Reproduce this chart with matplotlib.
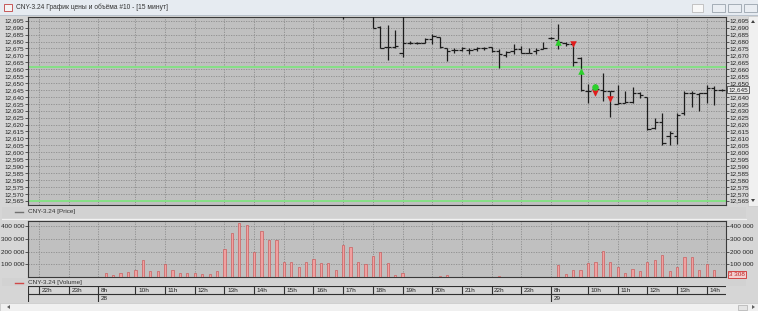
import matplotlib
matplotlib.use('Agg')
import matplotlib.pyplot as plt
import numpy as np
from matplotlib.patches import Rectangle, Polygon
from matplotlib.ticker import FuncFormatter, FixedLocator

plt.rcParams['font.family'] = ['Liberation Sans', 'DejaVu Sans']

W, H = 758, 311

# ---------------- data ----------------
title = "CNY-3.24 График цены и объёма #10 - [15 минут]"
price_legend = "CNY-3.24 [Price]"
volume_legend = "CNY-3.24 [Volume]"

hour_labels = ['22h', '23h', '8h', '10h', '11h', '12h', '13h', '14h', '15h', '16h', '17h',
               '18h', '19h', '20h', '21h', '22h', '23h', '8h', '10h', '11h', '12h', '13h', '14h']
hour_start = [0, 4, 8, 13, 17, 21, 25, 29, 33, 37, 41, 45, 49, 53, 57, 61, 65, 69, 74, 78, 82, 86, 90]
date_labels = ['28', '29']
date_start = [8, 69]

price_start = 41
opens = [12.700, np.nan, np.nan, np.nan, 12.699, 12.6905, 12.676, 12.676, 12.6715, 12.679,
         12.679, 12.679, 12.6815, 12.683, 12.675, 12.674, 12.674, 12.674, 12.6745, 12.675,
         12.676, 12.673, 12.670, 12.6735, 12.6745, 12.672, 12.673, 12.6745, 12.6825, 12.681,
         12.679, 12.678, 12.668, 12.6445, 12.6455, 12.645, 12.644, 12.635, 12.6355, 12.6365,
         12.6425, 12.640, 12.6175, 12.622, 12.612, 12.612, 12.628, 12.643, 12.642, 12.6425,
         12.6465, 12.645]
highs = [12.704, np.nan, np.nan, np.nan, 12.700, 12.6915, 12.692, 12.688, 12.705, 12.6805,
         12.680, 12.6825, 12.6855, 12.6835, 12.6755, 12.6755, 12.676, 12.6755, 12.676, 12.676,
         12.676, 12.6745, 12.673, 12.678, 12.6765, 12.675, 12.6755, 12.680, 12.683, 12.6925,
         12.680, 12.6785, 12.669, 12.6493, 12.649, 12.657, 12.6445, 12.6485, 12.644, 12.647,
         12.6435, 12.640, 12.625, 12.628, 12.615, 12.628, 12.6445, 12.6445, 12.6425, 12.6485,
         12.6475, 12.646]
lows = [12.6965, np.nan, np.nan, np.nan, 12.6895, 12.675, 12.667, 12.675, 12.669, 12.6785,
        12.6785, 12.679, 12.678, 12.6755, 12.666, 12.672, 12.673, 12.671, 12.6735, 12.674,
        12.6725, 12.661, 12.669, 12.671, 12.6715, 12.6715, 12.671, 12.6745, 12.682, 12.6745,
        12.677, 12.662, 12.6445, 12.6354, 12.641, 12.637, 12.6255, 12.635, 12.6355, 12.6355,
        12.6395, 12.616, 12.6165, 12.605, 12.605, 12.606, 12.627, 12.633, 12.6295, 12.6355,
        12.634, 12.644]
closes = [12.699, np.nan, np.nan, np.nan, 12.690, 12.675, 12.676, 12.6765, 12.679, 12.679,
          12.679, 12.6815, 12.684, 12.676, 12.6735, 12.674, 12.675, 12.674, 12.675, 12.675,
          12.673, 12.671, 12.6725, 12.6745, 12.672, 12.672, 12.674, 12.675, 12.6825, 12.6795,
          12.678, 12.6655, 12.645, 12.6445, 12.6455, 12.6445, 12.644, 12.6355, 12.6365, 12.6425,
          12.641, 12.617, 12.6215, 12.607, 12.614, 12.627, 12.6425, 12.643, 12.6425, 12.6465,
          12.645, 12.645]

vol_start = 8
volumes = [3000, 28000, 15000, 34000, 42000, 58000, 132000, 47000, 47000, 100000,
           52000, 31000, 31000, 31000, 26000, 26000, 47000, 220000, 348000, 425000,
           409000, 199000, 358000, 292000, 292000, 119000, 116000, 79000, 119000, 142000,
           111000, 111000, 55000, 252000, 233000, 119000, 106000, 164000, 197000, 108000,
           15000, 31000, 3000, 2000, 2000, 2000, 4000, 15000, 3000, 2000,
           2000, 2000, 2000, 2000, 7000, 2000, 2000, 2000, 2000, 2000,
           3000, 2000, 92000, 20000, 52000, 52000, 111000, 119000, 207000, 119000,
           79000, 34000, 66000, 47000, 114000, 135000, 175000, 44000, 79000, 158000,
           158000, 55000, 100000, 55000, 3308]

buy_idx = [70, 73]
buy_price = [12.680, 12.659]
sell_idx = [72, 75, 77]
sell_price = [12.678, 12.643, 12.6383]
circle_idx = [75]
circle_price = [12.6474]
level_lines = [12.6618, 12.565]
last_price = 12.645
last_volume = 3308

price_ticks = [12.565 + 0.005 * k for k in range(27)]
volume_ticks = [100000, 200000, 300000, 400000]

# ---------------- layout helpers ----------------
def px_rect(x0, y0, x1, y1):
    return [x0 / W, 1 - y1 / H, (x1 - x0) / W, (y1 - y0) / H]

XL = (-1.48, 92.6)
grid_kw = dict(color='#8c8c8c', lw=0.6, ls=(0, (1.5, 1.5)), zorder=1)
tick_font = 4.6

fig = plt.figure(figsize=(W / 100, H / 100), dpi=100)
fig.patch.set_facecolor('#d6d6d6')

# chrome (window frame)
bg = fig.add_axes([0, 0, 1, 1], zorder=0)
bg.set_xlim(0, W)
bg.set_ylim(H, 0)
bg.axis('off')
bg.add_patch(Rectangle((0, 0), W, 15, fc='#e6ebf1', ec='none'))
bg.add_patch(Rectangle((0, 15), W, 1, fc='#b9c2cc', ec='none'))
bg.add_patch(Rectangle((4, 4), 8, 7, fc='#f4f4f4', ec='#c04040', lw=0.6))
bg.text(16, 7.5, title, fontsize=4.8, color='#333333', va='center', ha='left')
for bx in (712, 728, 744):
    bg.add_patch(Rectangle((bx, 4), 13, 8, fc='#e9edf2', ec='#9aa4ae', lw=0.6))
bg.add_patch(Rectangle((692, 4), 11, 8, fc='#f8f8f8', ec='#b0b0b0', lw=0.5))
# right scrollbar
bg.add_patch(Rectangle((748, 16), 10, 190, fc='#f0f0f0', ec='#c8c8c8', lw=0.5))
bg.add_patch(Polygon([[751, 23], [755, 23], [753, 20]], fc='#404040', ec='none'))
bg.add_patch(Polygon([[751, 199], [755, 199], [753, 202]], fc='#404040', ec='none'))
# bottom scrollbar
bg.add_patch(Rectangle((0, 303), W, 8, fc='#f0f0f0', ec='#c8c8c8', lw=0.5))
bg.add_patch(Polygon([[10, 305], [10, 309], [7, 307]], fc='#606060', ec='none'))
bg.add_patch(Polygon([[752, 305], [752, 309], [755, 307]], fc='#606060', ec='none'))
bg.add_patch(Rectangle((738, 304.5), 9, 5, fc='#e4e4e4', ec='#a0a0a0', lw=0.4))
# legend strips
bg.add_patch(Rectangle((2, 207), 744, 11, fc='#d2d2d2', ec='none'))
bg.plot([15, 23], [212, 212], color='#707070', lw=1)
bg.text(28, 212, price_legend, fontsize=4.6, color='#333333', va='center')
bg.add_patch(Rectangle((2, 278), 744, 8, fc='#d2d2d2', ec='none'))
bg.plot([15, 23], [282.5, 282.5], color='#d04848', lw=1)
bg.text(28, 282.5, volume_legend, fontsize=4.6, color='#333333', va='center')
bg.plot([2, 746], [218.5, 218.5], color='#f2f2f2', lw=0.8)

# ---------------- price panel ----------------
ax_p = fig.add_axes(px_rect(28, 17, 726, 205), zorder=2)
ax_p.set_facecolor('#c0c0c0')
ax_p.set_xlim(*XL)
ax_p.set_ylim(12.5619, 12.6977)
for y in price_ticks:
    ax_p.axhline(y, **grid_kw)
for i in hour_start:
    ax_p.axvline(i, **grid_kw)
for y in level_lines:
    ax_p.axhline(y, color='#86e086', lw=1.4, zorder=2)

bar_col = '#1c1c1c'
for k in range(len(opens)):
    o, h, l, c = opens[k], highs[k], lows[k], closes[k]
    if np.isnan(o):
        continue
    i = price_start + k
    ax_p.vlines(i, l, h, color=bar_col, lw=0.9, zorder=3)
    ax_p.hlines(o, i - 0.45, i, color=bar_col, lw=0.9, zorder=3)
    ax_p.hlines(c, i, i + 0.45, color=bar_col, lw=0.9, zorder=3)

ax_p.scatter(buy_idx, buy_price, marker='^', s=22, color='#2bd02b', zorder=4, linewidths=0)
ax_p.scatter(sell_idx, sell_price, marker='v', s=22, color='#e01c1c', zorder=4, linewidths=0)
ax_p.scatter(circle_idx, circle_price, marker='o', s=22, color='#2bd02b', zorder=5, linewidths=0)

ax_p.yaxis.set_major_locator(FixedLocator(price_ticks))
ax_p.yaxis.set_major_formatter(FuncFormatter(lambda v, p: f"{v:.3f}".replace('.', ',')))
ax_p.tick_params(axis='y', left=True, right=True, labelleft=True, labelright=True,
                 labelsize=tick_font, length=2, width=0.5, pad=0.8, colors='#222222')
ax_p.set_xticks([])
for s in ax_p.spines.values():
    s.set_color('#3a3a3a')
    s.set_linewidth(0.8)
# the current-price box replaces the right-hand tick label at the same level
for t, v in zip(ax_p.yaxis.get_major_ticks(), price_ticks):
    if abs(v - last_price) < 1e-9:
        t.label2.set_visible(False)
ax_p.text(1.003, last_price, f"{last_price:.3f}".replace('.', ','), transform=ax_p.get_yaxis_transform(),
          fontsize=tick_font, va='center', ha='left', color='#222222', zorder=6,
          bbox=dict(boxstyle='square,pad=0.15', fc='#e8e8e8', ec='#303030', lw=0.5), clip_on=False)

# ---------------- volume panel ----------------
ax_v = fig.add_axes(px_rect(28, 221, 726, 277), zorder=2)
ax_v.set_facecolor('#c0c0c0')
ax_v.set_xlim(*XL)
ax_v.set_ylim(0, 440000)
for y in volume_ticks:
    ax_v.axhline(y, **grid_kw)
for i in hour_start:
    ax_v.axvline(i, **grid_kw)
vol_idx = np.arange(vol_start, vol_start + len(volumes))
ax_v.bar(vol_idx, volumes, width=0.3, color='#f0a0a0', edgecolor='#c84c4c', lw=0.4, zorder=3)
ax_v.yaxis.set_major_locator(FixedLocator(volume_ticks))
ax_v.yaxis.set_major_formatter(FuncFormatter(lambda v, p: f"{int(v):,}".replace(',', ' ')))
ax_v.tick_params(axis='y', left=True, right=True, labelleft=True, labelright=True,
                 labelsize=tick_font, length=2, width=0.5, pad=0.8, colors='#222222')
ax_v.set_xticks([])
for s in ax_v.spines.values():
    s.set_color('#3a3a3a')
    s.set_linewidth(0.8)
ax_v.text(1.004, 0.0, f"{last_volume:,}".replace(',', ' '), transform=ax_v.transAxes,
          fontsize=tick_font, va='bottom', ha='left', color='#c02020', zorder=6,
          bbox=dict(boxstyle='square,pad=0.15', fc='#f2d0d0', ec='#d03030', lw=0.6), clip_on=False)

# ---------------- time axis ----------------
ax_t = fig.add_axes(px_rect(28, 286, 726, 302), zorder=2)
ax_t.set_facecolor('#d4d4d4')
ax_t.set_xlim(*XL)
ax_t.set_ylim(0, 2)
ax_t.axis('off')
ax_t.axhline(2, color='#303030', lw=0.8)
ax_t.axhline(1, color='#303030', lw=0.8)
ax_t.axhline(0, color='#9a9a9a', lw=0.6)
ax_t.axvline(XL[0], color='#303030', lw=0.8)
for lab, i in zip(hour_labels, hour_start):
    ax_t.plot([i, i], [1, 2], color='#303030', lw=0.8)
    ax_t.text(i + 0.35, 1.5, lab, fontsize=tick_font, va='center', ha='left', color='#222222')
for lab, i in zip(date_labels, date_start):
    ax_t.plot([i, i], [0, 1], color='#303030', lw=0.8)
    ax_t.text(i + 0.35, 0.5, lab, fontsize=tick_font, va='center', ha='left', color='#222222')

fig.savefig('out.png', dpi=100, facecolor=fig.get_facecolor())
